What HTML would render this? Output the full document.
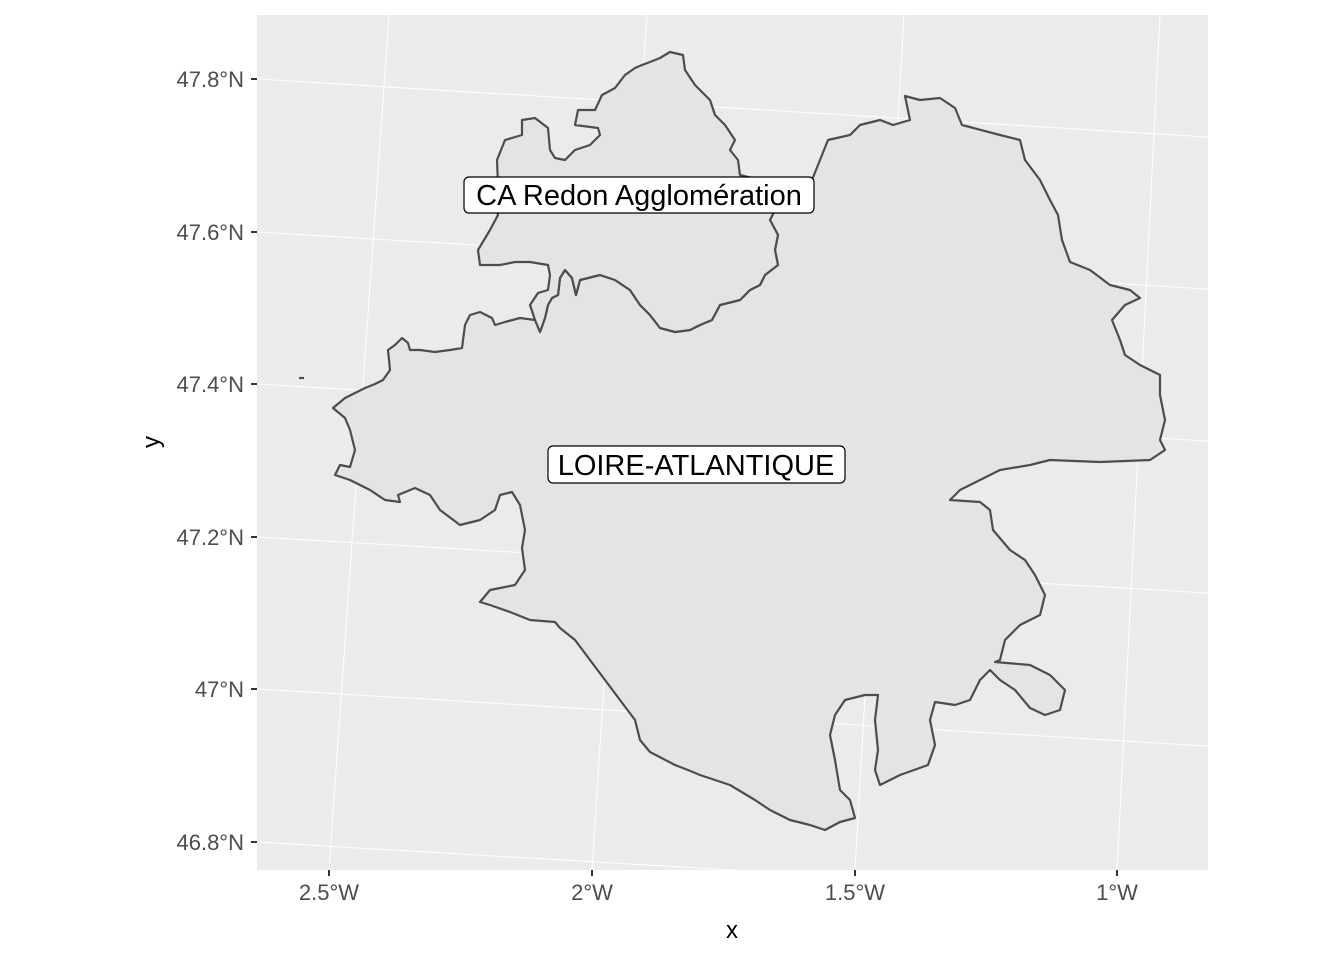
<!DOCTYPE html>
<html><head><meta charset="utf-8"><style>
html,body{margin:0;padding:0;background:#fff;}
svg text{font-family:"Liberation Sans",sans-serif;}
</style></head><body>
<svg width="1344" height="960" viewBox="0 0 1344 960">
<rect x="257" y="15" width="951" height="855" fill="#ebebeb"/>
<clipPath id="pc"><rect x="257" y="15" width="951" height="855"/></clipPath>
<g clip-path="url(#pc)" stroke="#fff" stroke-width="1">
<line x1="389" y1="15" x2="329" y2="870"/>
<line x1="647" y1="15" x2="592" y2="870"/>
<line x1="904" y1="15" x2="855" y2="870"/>
<line x1="1160" y1="15" x2="1117" y2="870"/>
<line x1="257" y1="79" x2="1208" y2="137"/>
<line x1="257" y1="232" x2="1208" y2="289"/>
<line x1="257" y1="384" x2="1208" y2="441"/>
<line x1="257" y1="537" x2="1208" y2="593"/>
<line x1="257" y1="689" x2="1208" y2="746"/>
<line x1="257" y1="842" x2="1208" y2="898"/>
</g>
<g fill="#e4e4e4" stroke="#4d4d4d" stroke-width="2.2" stroke-linejoin="round">
<polygon points="333,408 345,398 365,388 375,384 383,380 390,370 388,350 395,345 402,338 408,343 410,350 420,350 435,352 450,350 462,348 465,325 470,315 480,312 492,318 495,325 505,322 520,318 535,320 540,332 545,318 548,305 552,298 558,295 560,278 565,270 572,278 576,295 580,280 600,275 615,280 630,290 640,305 650,315 660,328 675,332 690,330 700,325 712,320 720,305 740,300 750,290 760,285 765,275 778,265 775,250 778,235 770,220 775,210 790,200 800,190 812,180 818,165 828,140 850,135 860,125 880,120 893,125 910,120 905,96 920,100 940,98 955,108 962,125 1000,135 1020,140 1025,160 1040,180 1050,200 1058,215 1062,240 1070,262 1090,270 1110,285 1130,290 1140,298 1125,305 1112,320 1120,340 1125,355 1140,365 1160,375 1160,395 1165,420 1160,440 1165,450 1150,460 1100,462 1050,460 1030,465 1000,470 980,480 960,490 950,500 980,502 990,510 993,530 1010,550 1025,560 1035,575 1045,595 1040,615 1020,625 1005,640 1000,660 995,662 1030,665 1050,675 1065,690 1060,710 1045,715 1030,708 1015,690 1000,680 990,670 980,680 970,700 955,705 935,702 930,720 935,745 928,765 900,775 880,785 875,770 878,750 875,720 878,695 865,695 845,700 835,715 830,735 835,760 840,790 850,800 855,818 840,822 825,830 810,825 790,820 770,810 755,800 730,785 700,775 688,770 675,765 650,752 640,740 635,720 620,700 605,680 590,660 575,640 560,628 555,622 530,620 510,612 490,605 480,602 490,590 515,585 525,570 522,548 525,530 520,505 512,492 500,495 495,510 480,520 460,525 440,510 430,495 415,488 398,495 400,502 385,500 370,490 350,480 335,475 340,465 350,467 355,450 350,430 345,418"/>
<polygon points="480,265 478,250 490,230 498,215 495,200 498,185 497,160 505,140 522,135 522,120 535,118 548,128 550,150 555,158 565,160 575,150 590,145 600,135 598,128 575,125 578,110 595,110 602,95 615,88 625,75 635,68 642,65 650,62 660,58 670,52 683,55 685,70 695,85 710,100 715,115 725,125 735,140 730,150 738,160 740,175 760,180 770,190 775,210 770,220 778,235 775,250 778,265 765,275 760,285 750,290 740,300 720,305 712,320 700,325 690,330 675,332 660,328 650,315 640,305 630,290 615,280 600,275 580,280 576,295 572,278 565,270 560,278 558,295 552,298 548,305 545,318 540,332 535,320 530,305 538,293 548,290 550,275 548,265 530,262 515,262 500,265"/>
<line x1="299" y1="378" x2="304" y2="378"/>
</g>
<g>
<rect x="464" y="177" width="350" height="36" rx="5" fill="#fff" stroke="#000" stroke-width="1.2"/>
<text x="639" y="205" font-size="29" text-anchor="middle" fill="#000">CA Redon Agglomération</text>
</g>
<g>
<rect x="548" y="446" width="297" height="37" rx="5" fill="#fff" stroke="#000" stroke-width="1.2"/>
<text x="696" y="475" font-size="29" text-anchor="middle" fill="#000">LOIRE-ATLANTIQUE</text>
</g>
<g stroke="#333" stroke-width="2">
<line x1="251" y1="79" x2="257" y2="79"/><line x1="251" y1="232" x2="257" y2="232"/>
<line x1="251" y1="384" x2="257" y2="384"/><line x1="251" y1="537" x2="257" y2="537"/>
<line x1="251" y1="689" x2="257" y2="689"/><line x1="251" y1="842" x2="257" y2="842"/>
<line x1="329" y1="870" x2="329" y2="876"/><line x1="592" y1="870" x2="592" y2="876"/>
<line x1="855" y1="870" x2="855" y2="876"/><line x1="1117" y1="870" x2="1117" y2="876"/>
</g>
<g font-size="22" fill="#4d4d4d" text-anchor="end">
<text x="244" y="87">47.8°N</text><text x="244" y="240">47.6°N</text>
<text x="244" y="392">47.4°N</text><text x="244" y="545">47.2°N</text>
<text x="244" y="697">47°N</text><text x="244" y="850">46.8°N</text>
</g>
<g font-size="22" fill="#4d4d4d" text-anchor="middle">
<text x="329" y="900">2.5°W</text><text x="592" y="900">2°W</text>
<text x="855" y="900">1.5°W</text><text x="1117" y="900">1°W</text>
</g>
<text x="732" y="938" font-size="24" text-anchor="middle" fill="#000">x</text>
<text x="0" y="0" font-size="24" text-anchor="middle" fill="#000" transform="translate(159,442) rotate(-90)">y</text>
</svg>
</body></html>
